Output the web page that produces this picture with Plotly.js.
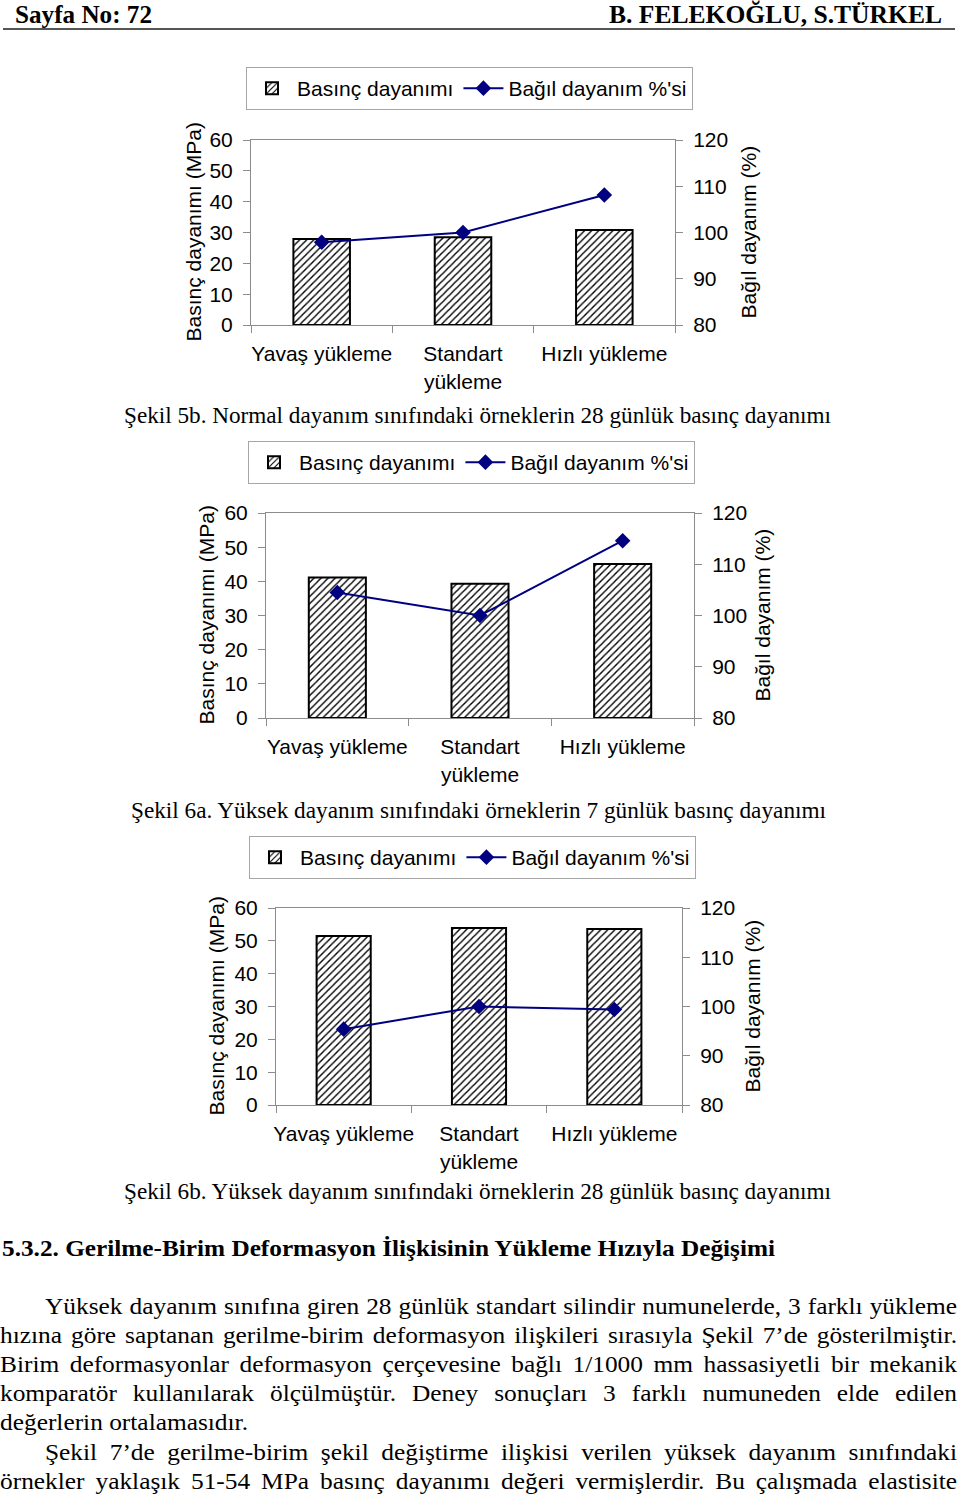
<!DOCTYPE html>
<html>
<head>
<meta charset="utf-8">
<script src="https://cdn.plot.ly/plotly-3.0.1.min.js"></script>
<style>
  html, body { margin:0; padding:0; background:#fff; }
  #page { position:relative; width:960px; height:1495px; overflow:hidden; background:#fff; }
  .chart { position:absolute; left:0; width:960px; }
  .txt { position:absolute; white-space:nowrap; font-family:"Liberation Serif","Times New Roman",serif; color:#000; transform-origin:left center; }
  #rule { position:absolute; left:3px; top:28px; width:952px; height:2px; background:#555; }
</style>
</head>
<body>
<div id="page">
  <div id="rule"></div>
  <div id="c1" class="chart" style="top:40px;height:360px"></div>
  <div id="c2" class="chart" style="top:430px;height:370px"></div>
  <div id="c3" class="chart" style="top:825px;height:355px"></div>
</div>
<script>
// ---- data ----
const categories = ['Yavaş yükleme', 'Standart<br>yükleme', 'Hızlı yükleme'];
const strengthName = 'Basınç dayanımı';
const relativeName = "Bağıl dayanım %'si";
const leftAxisTitle = 'Basınç dayanımı (MPa)';
const rightAxisTitle = 'Bağıl dayanım (%)';

const strength5b = [27.9, 28.5, 30.8];
const relative5b = [97.9, 100.0, 108.1];
const strength6a = [41.1, 39.3, 45.1];
const relative6a = [104.5, 100.0, 114.6];
const strength6b = [51.5, 53.9, 53.6];
const relative6b = [95.4, 100.0, 99.4];

const leftTicks = [0, 10, 20, 30, 40, 50, 60];
const rightTicks = [80, 90, 100, 110, 120];

// ---- texts ----
const singles = [
  {t:'Sayfa No: 72', x1:15, x2:152, y:15, size:26, bold:true},
  {t:'B. FELEKOĞLU, S.TÜRKEL', x1:609, x2:942, y:15, size:26, bold:true},
  {t:'Şekil 5b. Normal dayanım sınıfındaki örneklerin 28 günlük basınç dayanımı', x1:124, x2:831, y:415, size:24},
  {t:'Şekil 6a. Yüksek dayanım sınıfındaki örneklerin 7 günlük basınç dayanımı', x1:131, x2:826, y:810, size:24},
  {t:'Şekil 6b. Yüksek dayanım sınıfındaki örneklerin 28 günlük basınç dayanımı', x1:124, x2:831, y:1191, size:24},
  {t:'5.3.2. Gerilme-Birim Deformasyon İlişkisinin Yükleme Hızıyla Değişimi', x1:2, x2:775, y:1248, size:24, bold:true}
];
const bodyLines = [
  {t:'Yüksek dayanım sınıfına giren 28 günlük standart silindir numunelerde, 3 farklı yükleme', x1:45, x2:957, y:1306, j:true},
  {t:'hızına göre saptanan gerilme-birim deformasyon ilişkileri sırasıyla Şekil 7’de gösterilmiştir.', x1:0, x2:957, y:1335, j:true},
  {t:'Birim deformasyonlar deformasyon çerçevesine bağlı 1/1000 mm hassasiyetli bir mekanik', x1:0, x2:957, y:1364, j:true},
  {t:'komparatör kullanılarak ölçülmüştür. Deney sonuçları 3 farklı numuneden elde edilen', x1:0, x2:957, y:1393, j:true},
  {t:'değerlerin ortalamasıdır.', x1:0, x2:248, y:1422, j:false},
  {t:'Şekil 7’de gerilme-birim şekil değiştirme ilişkisi verilen yüksek dayanım sınıfındaki', x1:45, x2:957, y:1452, j:true},
  {t:'örnekler yaklaşık 51-54 MPa basınç dayanımı değeri vermişlerdir. Bu çalışmada elastisite', x1:0, x2:957, y:1481, j:true}
];

const page = document.getElementById('page');
function addText(o, size) {
  const d = document.createElement('div');
  d.className = 'txt';
  d.textContent = o.t;
  d.style.fontSize = size + 'px';
  d.style.fontWeight = o.bold ? 'bold' : 'normal';
  d.style.lineHeight = (size * 1.2) + 'px';
  d.style.left = o.x1 + 'px';
  d.style.top = (o.y - size * 0.6) + 'px';
  page.appendChild(d);
  return d;
}
singles.forEach(o => {
  const d = addText(o, o.size);
  const w = d.getBoundingClientRect().width;
  d.style.transform = 'scaleX(' + ((o.x2 - o.x1) / w) + ')';
});
// body: common horizontal scale from the unjustified line, then justify others
const BODY = 24;
const bodyEls = bodyLines.map(o => addText(o, BODY));
const refIdx = bodyLines.findIndex(o => !o.j);
const s = (bodyLines[refIdx].x2 - bodyLines[refIdx].x1) / bodyEls[refIdx].getBoundingClientRect().width;
bodyLines.forEach((o, i) => {
  const d = bodyEls[i];
  const w = d.getBoundingClientRect().width;
  const target = (o.x2 - o.x1) / s;
  const spaces = (o.t.match(/ /g) || []).length;
  let sc = s;
  if (o.j && spaces > 0) {
    d.style.wordSpacing = ((target - w) / spaces) + 'px';
    const w2 = d.getBoundingClientRect().width;
    sc = (o.x2 - o.x1) / w2;
  }
  d.style.transform = 'scaleX(' + sc + ')';
});

// ---- charts ----
const FONT = 'Liberation Sans, Arial, sans-serif';
const AX = '#8c8c8c';

function makeChart(id, strength, relative, g) {
  const traces = [
    {
      type:'bar', x:categories, y:strength, name:strengthName, width:0.4,
      marker:{color:'#fff', line:{color:'#000', width:2},
        pattern:{shape:'/', fgcolor:'#000', bgcolor:'#fff', size:5, solidity:0.28}},
      hoverinfo:'skip'
    },
    {
      type:'scatter', mode:'lines+markers', x:categories, y:relative, yaxis:'y2', name:relativeName,
      line:{color:'#000080', width:2},
      marker:{symbol:'diamond', size:12, color:'#000080'},
      hoverinfo:'skip'
    }
  ];
  const layout = {
    width:960, height:g.h,
    margin:{l:g.l, r:g.r, t:g.t, b:g.b, pad:0},
    paper_bgcolor:'#fff', plot_bgcolor:'#fff',
    font:{family:FONT, size:21, color:'#000'},
    showlegend:true,
    legend:{orientation:'h', x:g.lx, xanchor:'left', y:g.ly, yanchor:'top',
      bordercolor:'#a6a6a6', borderwidth:1, font:{size:21, family:FONT},
      traceorder:'normal', itemwidth:40},
    xaxis:{type:'category', range:[-0.5, 2.5], tickson:'boundaries', ticks:'outside',
      ticklen:7, tickcolor:AX, showline:true, linecolor:AX, linewidth:1, mirror:true,
      showgrid:false, zeroline:false, tickfont:{size:21}, tickangle:0,
      ticklabelstandoff:10, fixedrange:true},
    yaxis:{range:[0, 60], tickvals:leftTicks, ticks:'outside', ticklen:7, tickcolor:AX,
      showline:true, linecolor:AX, showgrid:false, zeroline:false, tickfont:{size:21},
      ticklabelstandoff:6, fixedrange:true},
    yaxis2:{range:[80, 120], tickvals:rightTicks, overlaying:'y', side:'right', ticks:'outside',
      ticklen:7, tickcolor:AX, showline:true, linecolor:AX, showgrid:false, zeroline:false,
      tickfont:{size:21}, ticklabelstandoff:6, fixedrange:true},
    annotations:[
      {text:leftAxisTitle, xref:'paper', yref:'paper', x:0, y:0.5, xshift:g.tl, textangle:-90,
        showarrow:false, xanchor:'center', yanchor:'middle', font:{size:21}},
      {text:rightAxisTitle, xref:'paper', yref:'paper', x:1, y:0.5, xshift:g.tr, textangle:-90,
        showarrow:false, xanchor:'center', yanchor:'middle', font:{size:21}}
    ]
  };
  Plotly.newPlot(id, traces, layout, {staticPlot:true, displayModeBar:false});
}

makeChart('c1', strength5b, relative5b,
  {h:360, l:251, r:285, t:100, b:75, lx:(246-251)/424, ly:(325-67)/185, tl:-58, tr:73});
makeChart('c2', strength6a, relative6a,
  {h:370, l:266, r:266, t:82, b:82, lx:(248-266)/428, ly:(718-441)/206, tl:-60, tr:68});
makeChart('c3', strength6b, relative6b,
  {h:355, l:276, r:278, t:82, b:75, lx:(249-276)/406, ly:(1105-836)/198, tl:-60, tr:70});
</script>
</body>
</html>
